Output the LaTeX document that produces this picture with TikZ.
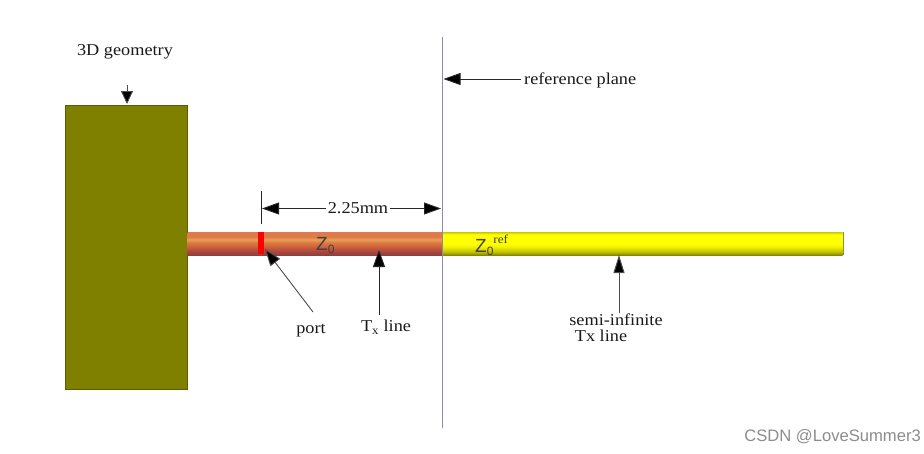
\documentclass[tikz,border=0pt]{standalone}
\usepackage{fontspec}
\setmainfont[FakeStretch=1.1]{Liberation Serif}
\setsansfont{Liberation Sans}
\usetikzlibrary{arrows.meta}
\definecolor{olivebox}{RGB}{128,128,0}
\definecolor{oliveedge}{RGB}{90,90,10}
\definecolor{planeline}{RGB}{140,140,175}
\pgfdeclareverticalshading{txshade}{100bp}{
  rgb(0bp)=(0.55,0.25,0.25);
  rgb(25bp)=(0.55,0.25,0.25);
  rgb(32bp)=(0.65,0.27,0.24);
  rgb(43bp)=(0.80,0.37,0.24);
  rgb(53bp)=(0.87,0.49,0.25);
  rgb(59bp)=(0.90,0.63,0.35);
  rgb(65bp)=(0.87,0.49,0.27);
  rgb(75bp)=(0.88,0.47,0.31);
  rgb(100bp)=(0.88,0.47,0.31)}
\pgfdeclareverticalshading{semishade}{100bp}{
  rgb(0bp)=(0.51,0.51,0);
  rgb(25bp)=(0.51,0.51,0);
  rgb(32bp)=(0.75,0.75,0);
  rgb(43bp)=(0.94,0.94,0);
  rgb(49bp)=(1,1,0);
  rgb(70bp)=(1,1,0);
  rgb(75bp)=(0.80,0.80,0);
  rgb(100bp)=(0.80,0.80,0)}
\tikzset{
  x=1pt,y=-1pt,
  lbl/.style={font=\fontsize{16.6pt}{17pt}\selectfont,inner sep=0pt,text=black!90},
  zlbl/.style={font=\sffamily\fontsize{19pt}{20pt}\selectfont,inner sep=0pt,text=black!75},
  callout/.style={draw=black!70,line width=0.9pt,-{Triangle[length=13pt,width=12pt,fill=black]}},
  dim/.style={draw=black!85,line width=0.9pt,-{Triangle[length=17pt,width=12pt,fill=black]}},
  tube/.style={minimum height=23pt,inner sep=0pt,anchor=north west}
}
\begin{document}
\begin{tikzpicture}
\useasboundingbox (0,0) rectangle (924,453);
% 3D block
\node[draw=oliveedge,fill=olivebox,line width=0.7pt,anchor=north west,minimum width=122pt,minimum height=284pt,inner sep=0pt] (geom) at (65,105) {};
% lines
\node[tube,minimum width=255pt,shading=txshade] (txline) at (187.5,232) {};
\node[tube,minimum width=400pt,shading=semishade] (semiline) at (442.5,232) {};
\draw[draw=oliveedge!70,line width=0.6pt] (semiline.north east) -- (semiline.south east);
% port
\node[fill=red,anchor=north,minimum width=6pt,minimum height=22pt,inner sep=0pt] (portbar) at (261,232) {};
% reference plane
\coordinate (planetop) at (442.5,37);
\coordinate (planebot) at (442.5,428);
\draw[draw=planeline,line width=1pt] (planetop) -- (planebot);
% labels
\node[lbl] (lgeom) at (125,52) {3D geometry};
\node[lbl,anchor=west] (lplane) at (524,80) {reference plane};
\node[lbl,fill=white,inner xsep=2pt] (ldim) at (358,208.5) {2.25mm};
\node[zlbl,anchor=base west] (lz) at (316,250) {Z\raisebox{-3pt}{\fontsize{12pt}{13pt}\selectfont 0}};
\node[zlbl,anchor=base west] (lzref) at (475,252) {Z\raisebox{-3pt}{\fontsize{12pt}{13pt}\selectfont 0}\raisebox{9pt}{\rmfamily\fontsize{12pt}{13pt}\selectfont ref}};
\node[lbl] (lport) at (311,331) {port};
\node[lbl] (ltx) at (386,327) {T\textsubscript{x} line};
\node[lbl] (lsemi) at (616,320) {semi-infinite};
\node[lbl] (lsemitx) at (601,336) {Tx line};
\node[font=\sffamily\fontsize{16.6pt}{17pt}\selectfont,text=black!45,anchor=east,inner sep=0pt] (wm) at (921,437) {CSDN @LoveSummer3};
% dimension
\coordinate (dimtick) at (261,191);
\coordinate (dimtickb) at (261,224);
\coordinate (dimleft) at (262,208.5);
\coordinate (dimright) at (441,208.5);
\draw[draw=black!85,line width=0.9pt] (dimtick) -- (dimtickb);
\draw[dim] (ldim.west) -- (dimleft);
\draw[dim] (ldim.east) -- (dimright);
% callouts
\coordinate (a1) at (127,85);
\coordinate (a2) at (127,104);
\draw[callout] (a1) -- (a2);
\coordinate (a3) at (521,79);
\coordinate (a4) at (443.5,79);
\draw[dim] (a3) -- (a4);
\coordinate (a5) at (313,312);
\coordinate (a6) at (265,249);
\draw[draw=black!70,line width=0.9pt,-{Triangle[length=17pt,width=12pt,fill=black]}] (a5) -- (a6);
\coordinate (a7) at (379,315);
\coordinate (a8) at (379,250);
\draw[dim] (a7) -- (a8);
\coordinate (a9) at (619,313);
\coordinate (a10) at (619,255);
\draw[draw=black!70,line width=1pt,-{Triangle[length=18pt,width=11pt,fill=black]}] (a9) -- (a10);
\end{tikzpicture}
\end{document}
